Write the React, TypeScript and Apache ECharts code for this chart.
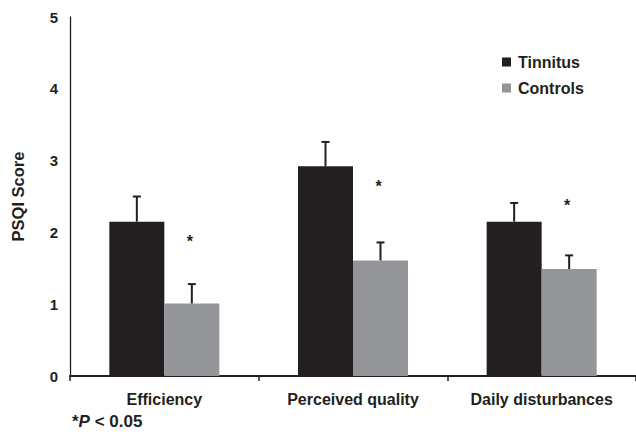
import React, { useEffect, useRef } from "react";
import * as echarts from "echarts";

const categories = ["Efficiency", "Perceived quality", "Daily disturbances"];
const tinnitusMean = [2.15, 2.92, 2.15];
const controlsMean = [1.01, 1.61, 1.49];
const tinnitusUpper = [2.5, 3.26, 2.41];
const controlsUpper = [1.28, 1.86, 1.68];
const significanceY = [1.88, 2.64, 2.38];
const yTicks = [0, 1, 2, 3, 4, 5];

const FONT = "'Liberation Sans', Arial, Helvetica, sans-serif";
const DARK = "#231f20";
const GREY = "#939598";
const BAR_W = 55;

export default function App() {
  const ref = useRef<HTMLDivElement>(null);

  useEffect(() => {
    if (!ref.current) return;
    const chart = echarts.init(ref.current, undefined, { renderer: "svg" });

    const errData = (upper: number[], mean: number[]) =>
      upper.map((u, i) => [i, u, mean[i]]);

    const errRender = (offset: number) => (params: any, api: any) => {
      const top = api.coord([api.value(0), api.value(1)]);
      const base = api.coord([api.value(0), api.value(2)]);
      const x = top[0] + offset;
      const capHalf = 4;
      return {
        type: "group",
        children: [
          {
            type: "line",
            shape: { x1: x, y1: base[1], x2: x, y2: top[1] },
            style: { stroke: DARK, lineWidth: 2 },
          },
          {
            type: "line",
            shape: { x1: x - capHalf, y1: top[1], x2: x + capHalf, y2: top[1] },
            style: { stroke: DARK, lineWidth: 2 },
          },
        ],
      };
    };

    chart.setOption({
      animation: false,
      backgroundColor: "#ffffff",
      textStyle: { fontFamily: FONT },
      title: {
        left: 72,
        top: 413,
        padding: 0,
        text: "{s|*}{p|P}{s| < 0.05}",
        textStyle: {
          rich: {
            s: { fontSize: 17, fontWeight: "bold", fontFamily: FONT, color: DARK },
            p: { fontSize: 17, fontWeight: "bold", fontStyle: "italic", fontFamily: FONT, color: DARK },
          },
        },
      },
      legend: {
        orient: "vertical",
        left: 497,
        top: 49,
        itemWidth: 9,
        itemHeight: 9,
        itemGap: 10,
        icon: "rect",
        data: ["Tinnitus", "Controls"],
        textStyle: { fontSize: 16, fontWeight: "bold", color: DARK, fontFamily: FONT, padding: [0, 0, 0, 2] },
      },
      grid: { left: 70, top: 17, width: 576, height: 359, containLabel: false },
      xAxis: {
        type: "category",
        data: categories,
        axisLine: { lineStyle: { color: DARK, width: 2 } },
        axisTick: { show: true, length: 5, lineStyle: { color: DARK, width: 1.5 } },
        axisLabel: { fontSize: 16, fontWeight: "bold", color: DARK, margin: 15, fontFamily: FONT },
      },
      yAxis: {
        type: "value",
        min: yTicks[0],
        max: yTicks[yTicks.length - 1],
        interval: 1,
        name: "PSQI Score",
        nameLocation: "middle",
        nameGap: 44,
        nameTextStyle: { fontSize: 16.5, fontWeight: "bold", color: DARK, fontFamily: FONT },
        axisLine: { show: true, lineStyle: { color: DARK, width: 1.3 } },
        axisTick: { show: false },
        splitLine: { show: false },
        axisLabel: { fontSize: 15, fontWeight: "bold", color: DARK, margin: 12, fontFamily: FONT },
      },
      series: [
        {
          name: "Tinnitus",
          type: "bar",
          data: tinnitusMean,
          barWidth: BAR_W,
          barGap: "0%",
          itemStyle: { color: DARK },
        },
        {
          name: "Controls",
          type: "bar",
          data: controlsMean,
          barWidth: BAR_W,
          barGap: "0%",
          itemStyle: { color: GREY },
        },
        {
          name: "errT",
          type: "custom",
          data: errData(tinnitusUpper, tinnitusMean),
          renderItem: errRender(-BAR_W / 2),
          z: 5,
          silent: true,
        },
        {
          name: "errC",
          type: "custom",
          data: errData(controlsUpper, controlsMean),
          renderItem: errRender(BAR_W / 2),
          z: 5,
          silent: true,
        },
        {
          name: "sig",
          type: "custom",
          data: significanceY.map((v, i) => [i, v]),
          renderItem: (params: any, api: any) => {
            const p = api.coord([api.value(0), api.value(1)]);
            return {
              type: "text",
              style: {
                text: "*",
                x: p[0] + BAR_W / 2 - 2,
                y: p[1],
                align: "center",
                verticalAlign: "middle",
                fontSize: 16,
                fontWeight: "bold",
                fontFamily: FONT,
                fill: DARK,
              },
            };
          },
          z: 5,
          silent: true,
        },
      ],
    });

    return () => chart.dispose();
  }, []);

  return (
    <div
      ref={ref}
      style={{ position: "fixed", left: 0, top: 0, width: 636, height: 435, background: "#fff" }}
    />
  );
}
